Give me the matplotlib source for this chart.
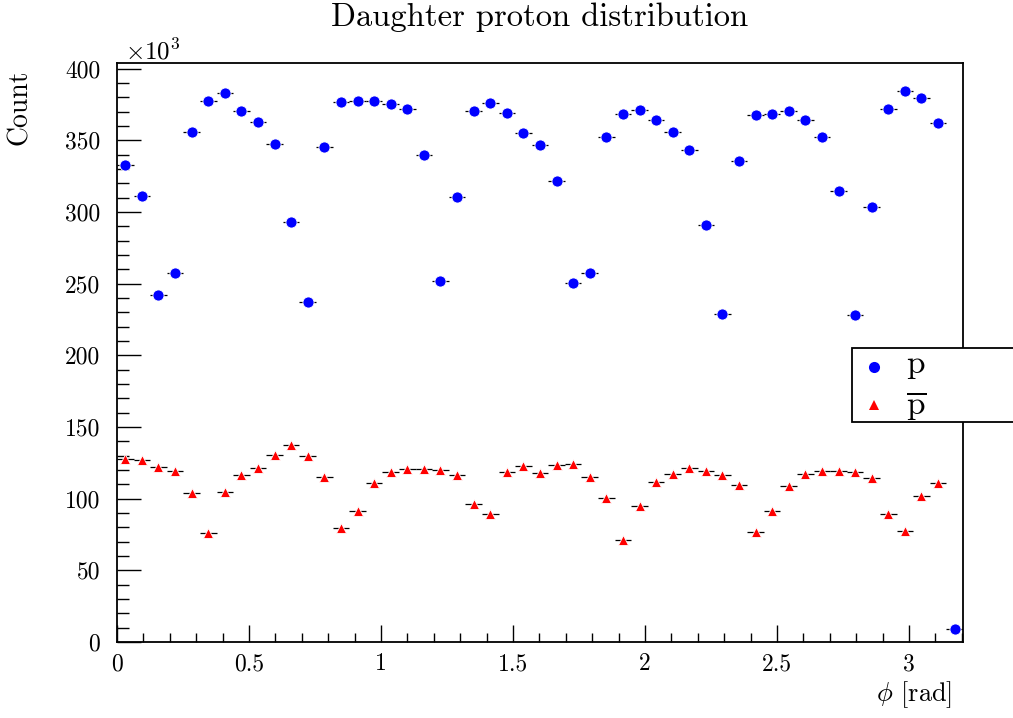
import numpy as np
import matplotlib
matplotlib.use("Agg")
import matplotlib.pyplot as plt
from matplotlib.patches import Rectangle
from matplotlib.ticker import MultipleLocator, FuncFormatter

plt.rcParams['font.family'] = 'serif'
plt.rcParams['font.serif'] = ['cmr10']
plt.rcParams['mathtext.fontset'] = 'cm'
plt.rcParams['axes.formatter.use_mathtext'] = True

# 51 bins of width pi/50 starting at 0
n_bins = 51
bin_width = np.pi / 50
phi_edges = np.arange(n_bins + 1) * bin_width
phi_centers = 0.5 * (phi_edges[:-1] + phi_edges[1:])

# counts in units of 10^3
proton_k = [
    333.1, 311.4, 242.0, 257.3, 355.7, 377.4, 382.7, 370.4, 362.9, 347.8,
    292.8, 237.3, 345.2, 376.7, 377.4, 377.2, 375.1, 372.0, 339.6, 251.7,
    310.5, 370.4, 376.2, 369.0, 355.0, 346.9, 321.5, 250.8, 257.6, 352.4,
    368.5, 371.1, 364.1, 355.5, 343.1, 290.9, 228.9, 335.9, 367.6, 368.3,
    370.4, 364.3, 352.2, 314.4, 228.2, 303.5, 371.8, 384.2, 379.7, 362.4,
    9.0,
]
antiproton_k = [
    127.7, 127.3, 122.2, 119.6, 103.7, 76.2, 104.9, 116.8, 121.2, 130.3,
    137.8, 130.1, 115.2, 79.5, 91.6, 110.7, 118.7, 120.8, 121.0, 119.8,
    116.8, 96.0, 89.0, 118.4, 123.1, 117.6, 123.3, 124.2, 115.4, 100.2,
    71.1, 95.1, 111.4, 117.5, 121.7, 119.6, 116.6, 109.3, 77.1, 91.1,
    108.9, 117.5, 119.1, 119.4, 118.4, 114.5, 89.3, 77.4, 101.9, 110.7,
    np.nan,
]

fig = plt.figure(figsize=(10.13, 7.18), dpi=100)
ax = fig.add_axes([0.1155, 0.1058, 0.8351, 0.8065])

for counts, color, marker, ms in [(proton_k, 'blue', 'o', 8.0),
                                  (antiproton_k, 'red', '^', 7.0)]:
    y = np.asarray(counts) * 1e3
    ax.errorbar(phi_centers, y, xerr=bin_width / 2, fmt='none',
                ecolor='black', elinewidth=0.9, zorder=2)
    ax.plot(phi_centers, y, linestyle='none', marker=marker, ms=ms,
            color=color, markeredgecolor='white', markeredgewidth=0.6,
            zorder=3)

ax.set_xlim(0, phi_edges[-1])
ax.set_ylim(0, 404e3)

ax.xaxis.set_major_locator(MultipleLocator(0.5))
ax.xaxis.set_minor_locator(MultipleLocator(0.1))
ax.yaxis.set_major_locator(MultipleLocator(50e3))
ax.yaxis.set_minor_locator(MultipleLocator(10e3))
ax.xaxis.set_major_formatter(FuncFormatter(lambda v, p: f'{v:g}'))
ax.yaxis.set_major_formatter(FuncFormatter(lambda v, p: f'{v / 1e3:g}'))

ax.tick_params(which='both', direction='in', top=False, right=False,
               labelsize=17, width=1.0)
ax.tick_params(axis='y', which='major', length=17.5, pad=12)
ax.tick_params(axis='y', which='minor', length=8.6)
ax.tick_params(axis='x', which='major', length=12, pad=8)
ax.tick_params(axis='x', which='minor', length=6.5)
for s in ax.spines.values():
    s.set_linewidth(1.3)

fig.text(0.533, 0.976, 'Daughter proton distribution', ha='center',
         va='center', fontsize=23.5)

ax.text(-0.115, 0.988, 'Count', transform=ax.transAxes, rotation=90,
        ha='center', va='top', fontsize=20)
ax.text(0.987, -0.0915, r'$\phi$ [rad]', transform=ax.transAxes,
        ha='right', va='center', fontsize=19)
ax.text(0.0095, 1.019, r'$\times10^{3}$', transform=ax.transAxes,
        ha='left', va='center', fontsize=18)

# legend box running past the right edge
box = Rectangle((0.869, 0.380), 0.3, 0.128, transform=ax.transAxes,
                facecolor='white', edgecolor='black', linewidth=1.3,
                clip_on=False, zorder=5)
ax.add_patch(box)
ax.plot([0.895], [0.475], 'o', color='blue', ms=8.0, mew=0,
        transform=ax.transAxes, clip_on=False, zorder=6)
ax.plot([0.895], [0.409], '^', color='red', ms=7.0, mew=0,
        transform=ax.transAxes, clip_on=False, zorder=6)
ax.text(0.933, 0.475, r'$\mathrm{p}$', transform=ax.transAxes,
        ha='left', va='center', fontsize=24, zorder=6)
ax.text(0.933, 0.409, r'$\overline{\mathrm{p}}$', transform=ax.transAxes,
        ha='left', va='center', fontsize=24, zorder=6)

fig.savefig('out.png', dpi=100)
